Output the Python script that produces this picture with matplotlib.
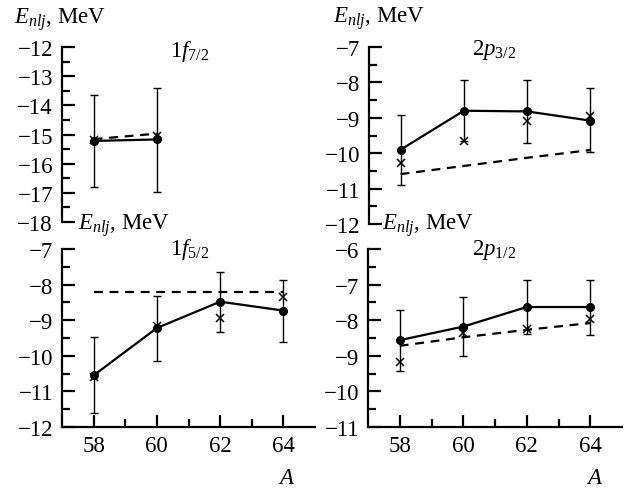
import numpy as np
import matplotlib
matplotlib.use('Agg')
import matplotlib.pyplot as plt

plt.rcParams['font.family'] = ['Liberation Serif', 'DejaVu Serif']
plt.rcParams['mathtext.fontset'] = 'custom'
plt.rcParams['mathtext.rm'] = 'Liberation Serif'
plt.rcParams['mathtext.it'] = 'Liberation Serif:italic'
plt.rcParams['axes.unicode_minus'] = True

# данные
A_f72 = [58, 60]
f72_exp = [-15.22, -15.17]
f72_top = [-13.65, -13.41]
f72_bot = [-16.79, -16.97]
f72_cross = [-15.18, -15.05]
f72_dash = [-15.16, -14.97]

A = [58, 60, 62, 64]
p32_exp = [-9.90, -8.80, -8.82, -9.08]
p32_top = [-8.91, -7.93, -7.94, -8.17]
p32_bot = [-10.90, -9.65, -9.71, -9.98]
p32_cross = [-10.28, -9.65, -9.10, -8.95]
p32_dash = [-10.59, -10.36, -10.13, -9.91]

f52_exp = [-10.55, -9.22, -8.48, -8.73]
f52_top = [-9.48, -8.31, -7.64, -7.86]
f52_bot = [-11.60, -10.15, -9.34, -9.62]
f52_cross = [-10.60, -9.17, -8.94, -8.36]
f52_dash = [-8.21, -8.21, -8.21, -8.21]

p12_exp = [-8.56, -8.18, -7.63, -7.63]
p12_top = [-7.70, -7.35, -6.88, -6.88]
p12_bot = [-9.42, -9.00, -8.39, -8.42]
p12_cross = [-9.17, -8.36, -8.26, -7.98]
p12_dash = [-8.72, -8.48, -8.27, -8.08]

FS = 16.5
W, H = 627, 489
fig = plt.figure(figsize=(W / 100, H / 100), dpi=100)

def px_axes(x0, y0, x1, y1):
    return fig.add_axes([x0 / W, 1 - y1 / H, (x1 - x0) / W, (y1 - y0) / H])

panels = [
    (px_axes(62, 48, 315, 223), A_f72, f72_exp, f72_top, f72_bot, f72_cross, f72_dash,
     (-18, -12), False),
    (px_axes(369, 48, 622, 225), A, p32_exp, p32_top, p32_bot, p32_cross, p32_dash,
     (-12, -7), False),
    (px_axes(62, 250, 315, 428), A, f52_exp, f52_top, f52_bot, f52_cross, f52_dash,
     (-12, -7), True),
    (px_axes(368, 250, 622, 428), A, p12_exp, p12_top, p12_bot, p12_cross, p12_dash,
     (-11, -6), True),
]

for ax, x, yexp, ytop, ybot, ycross, ydash, ylim, bottom in panels:
    x = np.array(x)
    yexp = np.array(yexp)
    yerr = [yexp - np.array(ybot), np.array(ytop) - yexp]
    ax.errorbar(x, yexp, yerr=yerr, fmt='-', color='black', lw=1.6,
                elinewidth=1.0, capsize=3, capthick=1.0, marker='o', ms=5.5, zorder=3)
    ax.plot(x, ydash, '--', color='black', lw=1.6, dashes=(4, 3))
    ax.plot(x, ycross, 'x', color='black', ms=6, mew=1.1, zorder=4)
    ax.set_xlim(57, 65)
    ax.set_ylim(*ylim)
    ax.set_yticks(np.arange(ylim[0], ylim[1] + 1, 1))
    ax.set_yticks(np.arange(ylim[0] + 0.5, ylim[1], 1), minor=True)
    ax.spines['top'].set_visible(False)
    ax.spines['right'].set_visible(False)
    ax.spines['left'].set_linewidth(1.6)
    ax.spines['bottom'].set_linewidth(1.6)
    ax.tick_params(axis='y', which='major', direction='in', length=9, width=1.6,
                   labelsize=FS, pad=6.5)
    ax.tick_params(axis='y', which='minor', direction='in', length=6, width=1.6)
    if bottom:
        ax.set_xticks([58, 60, 62, 64])
        ax.set_xticks([59, 61, 63], minor=True)
        ax.tick_params(axis='x', which='major', direction='in', length=9, width=1.6,
                       labelsize=FS, pad=6)
        ax.tick_params(axis='x', which='minor', direction='in', length=6, width=1.6)
    else:
        ax.spines['bottom'].set_visible(False)
        ax.set_xticks([])
    ax.patch.set_alpha(0)

# подписи
def ftext(x, y, s, **kw):
    fig.text(x / W, 1 - y / H, s, va='baseline', fontsize=FS, **kw)

ftext(14, 24, r'$E_{nlj}$, MeV')
ftext(333, 23, r'$E_{nlj}$, MeV')
ftext(78, 230, r'$E_{nlj}$, MeV')
ftext(382, 230, r'$E_{nlj}$, MeV')

ftext(170, 57, r'$1f_{7/2}$')
ftext(472, 55, r'$2p_{3/2}$')
ftext(170, 255, r'$1f_{5/2}$')
ftext(472, 255, r'$2p_{1/2}$')

ftext(287, 484, r'$A$', ha='center')
ftext(595, 484, r'$A$', ha='center')

fig.savefig('out.png', dpi=100)
